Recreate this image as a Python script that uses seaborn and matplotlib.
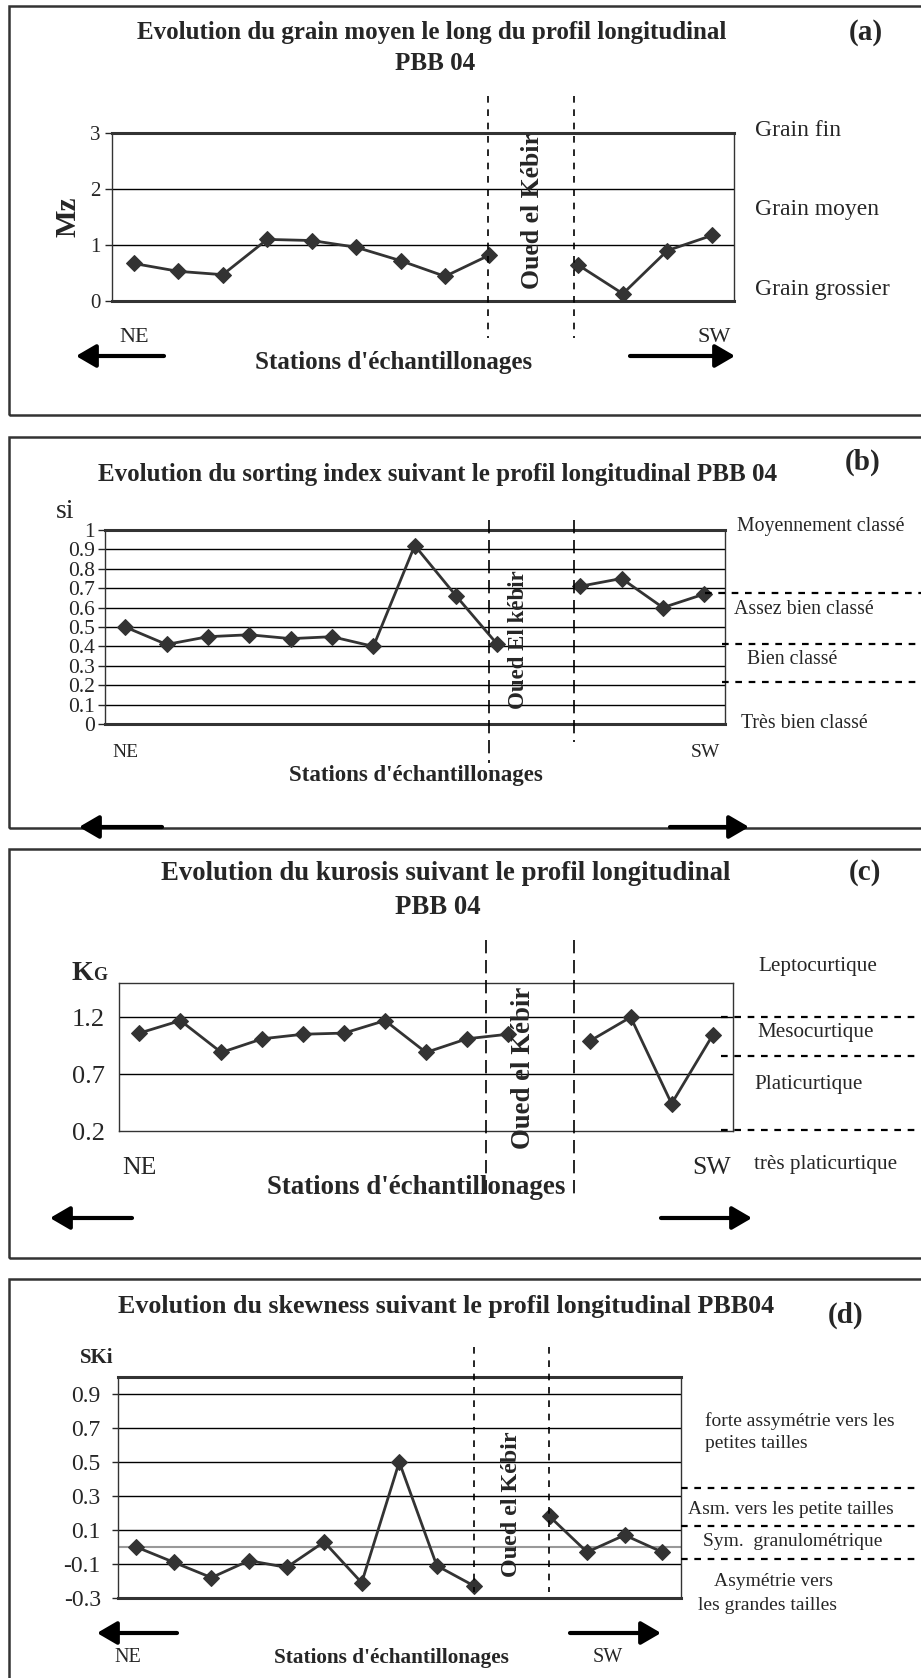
import matplotlib
matplotlib.use('Agg')
import matplotlib.pyplot as plt
from matplotlib.lines import Line2D
from matplotlib.patches import FancyArrowPatch, Rectangle
import numpy as np
import pandas as pd
import seaborn as sns

mz_values = [0.67, 0.53, 0.47, 1.10, 1.08, 0.96, 0.72, 0.44, 0.82, np.nan, 0.64, 0.13, 0.90, 1.17]
si_values = [0.50, 0.41, 0.45, 0.46, 0.44, 0.45, 0.40, 0.92, 0.66, 0.41, np.nan, 0.71, 0.75, 0.60, 0.67]
kg_values = [1.06, 1.17, 0.89, 1.01, 1.05, 1.06, 1.17, 0.89, 1.01, 1.05, np.nan, 0.99, 1.20, 0.44, 1.04]
ski_values = [0.0, -0.09, -0.18, -0.08, -0.12, 0.03, -0.21, 0.50, -0.11, -0.23, np.nan, 0.18, -0.03, 0.07, -0.03]

mz_ticks = [0, 1, 2, 3]
si_ticks = [0, 0.1, 0.2, 0.3, 0.4, 0.5, 0.6, 0.7, 0.8, 0.9, 1]
si_ticklabels = ['0', '0.1', '0.2', '0.3', '0.4', '0.5', '0.6', '0.7', '0.8', '0.9', '1']
kg_ticks = [0.2, 0.7, 1.2]
ski_ticks = [-0.3, -0.1, 0.1, 0.3, 0.5, 0.7, 0.9]

mz_classes = ['Grain fin', 'Grain moyen', 'Grain grossier']
si_classes = ['Moyennement classé', 'Assez bien classé', 'Bien classé', 'Très bien classé']
kg_classes = ['Leptocurtique', 'Mesocurtique', 'Platicurtique', 'très platicurtique']
ski_classes = ['forte assymétrie vers les', 'petites tailles', 'Asm. vers les petite tailles',
               'Sym.  granulométrique', 'Asymétrie vers', 'les grandes tailles']

sns.set_style('white')
plt.rcParams['font.family'] = ['Liberation Serif', 'DejaVu Serif']
plt.rcParams['axes.unicode_minus'] = False

W, H = 921, 1678
fig = plt.figure(figsize=(W / 100, H / 100), dpi=100)
fig.patch.set_facecolor('white')
gris = '#333333'


def add_ax(l, t, r, b):
    return fig.add_axes([l / W, 1 - b / H, (r - l) / W, (b - t) / H])


def txt(x, y, s, size=12, weight='normal', ha='center', va='center', **kw):
    fig.text(x / W, 1 - y / H, s, size=size, weight=weight, ha=ha, va=va, **kw)


def ligne(x0, y0, x1, y1, dash=(4, 3), lw=1.2):
    fig.add_artist(Line2D([x0 / W, x1 / W], [1 - y0 / H, 1 - y1 / H], color='black',
                          lw=lw, linestyle=(0, dash)))


def fleche(x0, x1, y):
    fig.add_artist(FancyArrowPatch((x0 / W, 1 - y / H), (x1 / W, 1 - y / H),
                                   transform=fig.transFigure, arrowstyle='-|>,head_length=0.6,head_width=0.35',
                                   mutation_scale=20, lw=3, color='black', shrinkA=0, shrinkB=0))


def cadre(top, bottom):
    fig.add_artist(Rectangle((9 / W, 1 - bottom / H), 2, (bottom - top) / H,
                             transform=fig.transFigure, fill=False, ec=gris, lw=1.8))


def profil(ax, values, ticks, ylim, size, labels=None, thick=True, zero=False, tick_len=5, pad=3):
    df = pd.DataFrame({'station': range(len(values)), 'value': values})
    gap = df['value'].isna().idxmax()
    df['segment'] = (df['station'] > gap).astype(int)
    df = df.dropna()
    inner = [t for t in ticks if ylim[0] < t < ylim[1]]
    for t in inner:
        ax.axhline(t, color='black', lw=1, zorder=1)
    if zero:
        ax.axhline(0, color='#999999', lw=1.5, zorder=1)
    sns.lineplot(data=df, x='station', y='value', units='segment', estimator=None, ax=ax,
                 color=gris, lw=2, marker='D', markersize=8, markeredgecolor=gris,
                 markerfacecolor=gris, zorder=3)
    ax.set_xlim(-0.5, len(values) - 0.5)
    ax.set_ylim(*ylim)
    ax.set_yticks(ticks)
    if labels is not None:
        ax.set_yticklabels(labels)
    ax.set_xticks([])
    ax.set_xlabel('')
    ax.set_ylabel('')
    ax.tick_params(axis='y', left=True, direction='out', length=tick_len, width=1,
                   labelsize=size, pad=pad)
    for s in ax.spines.values():
        s.set_color(gris)
        s.set_linewidth(1)
    if thick:
        ax.spines['top'].set_linewidth(2.2)
        ax.spines['bottom'].set_linewidth(2.2)


# ---------- (a) grain moyen ----------
cadre(6, 415)
ax_a = add_ax(111.6, 133, 734, 301)
profil(ax_a, mz_values, mz_ticks, (0, 3), 15)
txt(432, 32, 'Evolution du grain moyen le long du profil longitudinal', 18, 'bold')
txt(435, 63, 'PBB 04', 18, 'bold')
txt(866, 32, '(a)', 21, 'bold')
txt(68, 217, 'Mz', 21, 'bold', rotation=90)
ligne(487.5, 96, 487.5, 338, dash=(4, 4))
ligne(574.4, 96, 574.4, 338, dash=(4, 4))
txt(532, 211, 'Oued el Kébir', 18.5, 'bold', rotation=90)
for lab, y in zip(mz_classes, [130, 209, 290]):
    txt(755, y, lab, 17, ha='left')
txt(134, 337, 'NE', 16)
txt(714, 337, 'SW', 16)
txt(394, 362, "Stations d'échantillonages", 18, 'bold')
fleche(164, 76, 356)
fleche(630, 735, 356)

# ---------- (b) sorting index ----------
cadre(437, 828)
ax_b = add_ax(104.5, 530, 725, 724)
profil(ax_b, si_values, si_ticks, (0, 1), 15.5, labels=si_ticklabels, pad=2)
txt(438, 475, 'Evolution du sorting index suivant le profil longitudinal PBB 04', 18, 'bold')
txt(863, 462, '(b)', 21, 'bold')
txt(65, 512, 'si', 20)
ligne(489, 520, 489, 763, dash=(8, 4))
ligne(574, 520, 574, 742, dash=(8, 4))
txt(518, 640, 'Oued El kébir', 16.5, 'bold', rotation=90)
for lab, x, y in zip(si_classes, [737, 734, 747, 741], [526, 609, 659, 723]):
    txt(x, y, lab, 14.3, ha='left')
ligne(705, 593, 921, 593, dash=(3, 3), lw=1.6)
ligne(722, 644, 921, 644, dash=(3, 3), lw=1.6)
ligne(722, 682, 921, 682, dash=(3, 3), lw=1.6)
txt(125, 753, 'NE', 14)
txt(705, 753, 'SW', 14)
txt(416, 775, "Stations d'échantillonages", 16.5, 'bold')
fleche(162, 79, 827)
fleche(670, 749, 827)

# ---------- (c) kurtosis ----------
cadre(849, 1258)
ax_c = add_ax(119, 983, 733, 1131)
profil(ax_c, kg_values, kg_ticks, (0.2, 1.5), 19, labels=['0.2', '0.7', '1.2'], thick=False,
       tick_len=0, pad=10)
txt(446, 873, 'Evolution du kurosis suivant le profil longitudinal', 19.3, 'bold')
txt(438, 908, 'PBB 04', 19.3, 'bold')
txt(865, 873, '(c)', 21, 'bold')
txt(71, 980, 'K', 20, 'bold', ha='left', va='baseline')
txt(93, 980, 'G', 13, 'bold', ha='left', va='baseline')
ligne(486, 940, 486, 1200, dash=(8, 4))
ligne(574, 940, 574, 1200, dash=(8, 4))
txt(523, 1068, 'Oued el Kébir', 19.3, 'bold', rotation=90)
for lab, x, y in zip(kg_classes, [758, 757, 754, 754], [966, 1033, 1085, 1165]):
    txt(x, y, lab, 15.2, ha='left')
ligne(721, 1017, 921, 1017, dash=(3, 3), lw=1.6)
ligne(721, 1056, 921, 1056, dash=(3, 3), lw=1.6)
ligne(721, 1130, 921, 1130, dash=(3, 3), lw=1.6)
txt(139, 1168, 'NE', 18.5)
txt(712, 1168, 'SW', 18.5)
txt(416, 1187, "Stations d'échantillonages", 19.4, 'bold')
fleche(132, 50, 1218)
fleche(661, 752, 1218)

# ---------- (d) skewness ----------
cadre(1279, 1720)
ax_d = add_ax(117.5, 1377, 681, 1598)
profil(ax_d, ski_values, ski_ticks, (-0.3, 1.0), 17, zero=True, tick_len=4, pad=8)
txt(446, 1307, 'Evolution du skewness suivant le profil longitudinal PBB04', 18.7, 'bold')
txt(846, 1315, '(d)', 21, 'bold')
txt(97, 1358, 'SKi', 15, 'bold')
ligne(474, 1347, 474, 1592, dash=(4, 4))
ligne(549, 1347, 549, 1592, dash=(4, 4))
txt(511, 1504, 'Oued el Kébir', 17.3, 'bold', rotation=90)
for lab, x, y in zip(ski_classes, [705, 705, 688, 703, 714, 698], [1421, 1443, 1509, 1542, 1582, 1606]):
    txt(x, y, lab, 14, ha='left')
ligne(681, 1488, 921, 1488, dash=(3, 3), lw=1.6)
ligne(681, 1526, 921, 1526, dash=(3, 3), lw=1.6)
ligne(681, 1559, 921, 1559, dash=(3, 3), lw=1.6)
fleche(177, 97, 1633)
fleche(570, 661, 1633)
txt(128, 1658, 'NE', 14.5)
txt(391, 1658, "Stations d'échantillonages", 15.3, 'bold')
txt(608, 1658, 'SW', 14.5)

fig.savefig('out.png', dpi=100, facecolor='white')
